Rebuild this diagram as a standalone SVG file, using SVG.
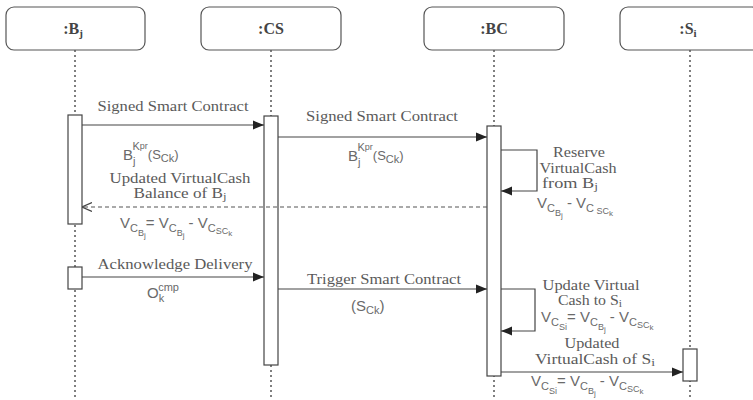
<svg xmlns="http://www.w3.org/2000/svg" width="753" height="400" viewBox="0 0 753 400">
  <style>
    .box { fill: #ffffff; stroke: #555555; stroke-width: 1.2; }
    .title { font-family: "Liberation Serif", serif; font-size: 16px; font-weight: bold; fill: #444444; text-anchor: middle; }
    .life { stroke: #555555; stroke-width: 1.5; stroke-dasharray: 2 3; fill: none; }
    .bar { fill: #ffffff; stroke: #444444; stroke-width: 1.2; }
    .msg { stroke: #444444; stroke-width: 1.2; fill: none; }
    .ret { stroke: #555555; stroke-width: 1.1; stroke-dasharray: 4 3; fill: none; }
    .lbl { font-family: "Liberation Serif", serif; font-size: 15px; fill: #5a5a5a; text-anchor: middle; }
    .sm { font-size: 14px; }
    .f { font-family: "Liberation Sans", Arial, sans-serif; font-size: 15px; fill: #6a6a6a; }
    .s0 { font-size: 13px; }
    .s1 { font-size: 11px; }
    .s2 { font-size: 9px; }
    .s3 { font-size: 8px; }
  </style>
  <defs>
    <marker id="filled" viewBox="0 0 10 10" refX="10" refY="5" markerWidth="11" markerHeight="11" markerUnits="userSpaceOnUse" orient="auto">
      <path d="M0,1 L10,5 L0,9 Z" fill="#222222"/>
    </marker>
    <marker id="open" viewBox="0 0 10 10" refX="10" refY="5" markerWidth="10" markerHeight="10" markerUnits="userSpaceOnUse" orient="auto">
      <path d="M0,0.5 L10,5 L0,9.5" fill="none" stroke="#444444" stroke-width="1.2"/>
    </marker>
  </defs>

  <!-- participants with lifelines and activation bars -->
  <g id="node-bj">
    <rect class="box" x="6" y="7" width="139" height="43" rx="8"/>
    <text class="title" x="73" y="34">:B<tspan class="s1" dy="3">j</tspan></text>
    <line class="life" x1="75" y1="50" x2="75" y2="400"/>
    <rect class="bar" x="68" y="115" width="14" height="109"/>
    <rect class="bar" x="68" y="267" width="14" height="22"/>
  </g>
  <g id="node-cs">
    <rect class="box" x="201" y="7" width="140" height="43" rx="8"/>
    <text class="title" x="271" y="34">:CS</text>
    <line class="life" x1="271" y1="50" x2="271" y2="400"/>
    <rect class="bar" x="264" y="116" width="14" height="249"/>
  </g>
  <g id="node-bc">
    <rect class="box" x="424" y="7" width="140" height="43" rx="8"/>
    <text class="title" x="494" y="34">:BC</text>
    <line class="life" x1="494" y1="50" x2="494" y2="400"/>
    <rect class="bar" x="487" y="126" width="14" height="250"/>
  </g>
  <g id="node-si">
    <rect class="box" x="620" y="7" width="140" height="43" rx="8"/>
    <text class="title" x="688" y="34">:S<tspan class="s1" dy="3">i</tspan></text>
    <line class="life" x1="690" y1="50" x2="690" y2="400"/>
    <rect class="bar" x="683" y="349" width="14" height="32"/>
  </g>

  <!-- messages -->
  <g id="connectors">
    <line class="msg" x1="82" y1="125" x2="264" y2="125" marker-end="url(#filled)"/>
    <line class="msg" x1="278" y1="137" x2="487" y2="137" marker-end="url(#filled)"/>
    <polyline class="msg" points="501,150 537,150 537,191 501,191" marker-end="url(#filled)"/>
    <line class="ret" x1="487" y1="207" x2="82" y2="207" marker-end="url(#open)"/>
    <line class="msg" x1="82" y1="277" x2="264" y2="277" marker-end="url(#filled)"/>
    <line class="msg" x1="278" y1="289" x2="487" y2="289" marker-end="url(#filled)"/>
    <polyline class="msg" points="501,289 535,289 535,331 501,331" marker-end="url(#filled)"/>
    <line class="msg" x1="501" y1="372" x2="683" y2="372" marker-end="url(#filled)"/>
  </g>

  <!-- message labels -->
  <g id="labels">
    <text class="lbl" x="173" y="111" textLength="151" lengthAdjust="spacingAndGlyphs">Signed Smart Contract</text>
    <text class="f" x="123" y="160">B<tspan class="s1" y="165">j</tspan><tspan class="s1" y="150" dx="-3">K</tspan><tspan class="s2" y="149">pr</tspan><tspan class="s0" y="159">(S</tspan><tspan class="s1" y="162">Ck</tspan><tspan class="s0" y="159">)</tspan></text>

    <text class="lbl" x="382" y="121" textLength="152" lengthAdjust="spacingAndGlyphs">Signed Smart Contract</text>
    <text class="f" x="348" y="161">B<tspan class="s1" y="166">j</tspan><tspan class="s1" y="151" dx="-3">K</tspan><tspan class="s2" y="150">pr</tspan><tspan class="s0" y="160">(S</tspan><tspan class="s1" y="163">Ck</tspan><tspan class="s0" y="160">)</tspan></text>

    <text class="lbl" x="579" y="157" textLength="52" lengthAdjust="spacingAndGlyphs">Reserve</text>
    <text class="lbl" x="578" y="173" textLength="77" lengthAdjust="spacingAndGlyphs">VirtualCash</text>
    <text class="lbl" x="570" y="188" textLength="56" lengthAdjust="spacingAndGlyphs">from B<tspan class="s1" dy="2">j</tspan></text>
    <text class="f" x="537" y="208">V<tspan class="s1" y="212">C</tspan><tspan class="s2" y="216">B</tspan><tspan class="s3" y="218">j</tspan><tspan y="208"> - V</tspan><tspan class="s1" y="212">C</tspan><tspan class="s2" y="214"> SC</tspan><tspan class="s3" y="216">k</tspan></text>

    <text class="lbl" x="180" y="183" textLength="141" lengthAdjust="spacingAndGlyphs">Updated VirtualCash</text>
    <text class="lbl" x="180" y="198" textLength="93" lengthAdjust="spacingAndGlyphs">Balance of B<tspan class="s1" dy="2">j</tspan></text>
    <text class="f" x="120" y="228">V<tspan class="s1" y="232">C</tspan><tspan class="s2" y="236">B</tspan><tspan class="s3" y="238">j</tspan><tspan y="228">= V</tspan><tspan class="s1" y="232">C</tspan><tspan class="s2" y="236">B</tspan><tspan class="s3" y="238">j</tspan><tspan y="228"> - V</tspan><tspan class="s1" y="232">C</tspan><tspan class="s2" y="234">SC</tspan><tspan class="s3" y="236">k</tspan></text>

    <text class="lbl" x="175" y="269" textLength="155" lengthAdjust="spacingAndGlyphs">Acknowledge Delivery</text>
    <text class="f" x="147" y="298">O<tspan class="s1" y="302">k</tspan><tspan class="s1" y="291" dx="-6">cmp</tspan></text>

    <text class="lbl" x="384" y="284" textLength="154" lengthAdjust="spacingAndGlyphs">Trigger Smart Contract</text>
    <text class="f" x="351" y="311">(S<tspan class="s1" y="314">Ck</tspan><tspan y="311">)</tspan></text>

    <text class="lbl" x="591" y="290" textLength="97" lengthAdjust="spacingAndGlyphs">Update Virtual</text>
    <text class="lbl" x="590" y="305" textLength="64" lengthAdjust="spacingAndGlyphs">Cash to S<tspan class="s1" dy="2">i</tspan></text>
    <text class="f" x="541" y="322">V<tspan class="s1" y="326">C</tspan><tspan class="s2" y="330">Si</tspan><tspan y="322">= V</tspan><tspan class="s1" y="326">C</tspan><tspan class="s2" y="330">B</tspan><tspan class="s3" y="332">j</tspan><tspan y="322"> - V</tspan><tspan class="s1" y="326">C</tspan><tspan class="s2" y="328">SC</tspan><tspan class="s3" y="330">k</tspan></text>

    <text class="lbl sm" x="592" y="348" textLength="55" lengthAdjust="spacingAndGlyphs">Updated</text>
    <text class="lbl sm" x="595" y="364" textLength="120" lengthAdjust="spacingAndGlyphs">VirtualCash of S<tspan class="s1" dy="2">i</tspan></text>
    <text class="f" x="531" y="386">V<tspan class="s1" y="390">C</tspan><tspan class="s2" y="394">Si</tspan><tspan y="386">= V</tspan><tspan class="s1" y="390">C</tspan><tspan class="s2" y="394">B</tspan><tspan class="s3" y="396">j</tspan><tspan y="386"> - V</tspan><tspan class="s1" y="390">C</tspan><tspan class="s2" y="392">SC</tspan><tspan class="s3" y="394">k</tspan></text>
  </g>
</svg>
